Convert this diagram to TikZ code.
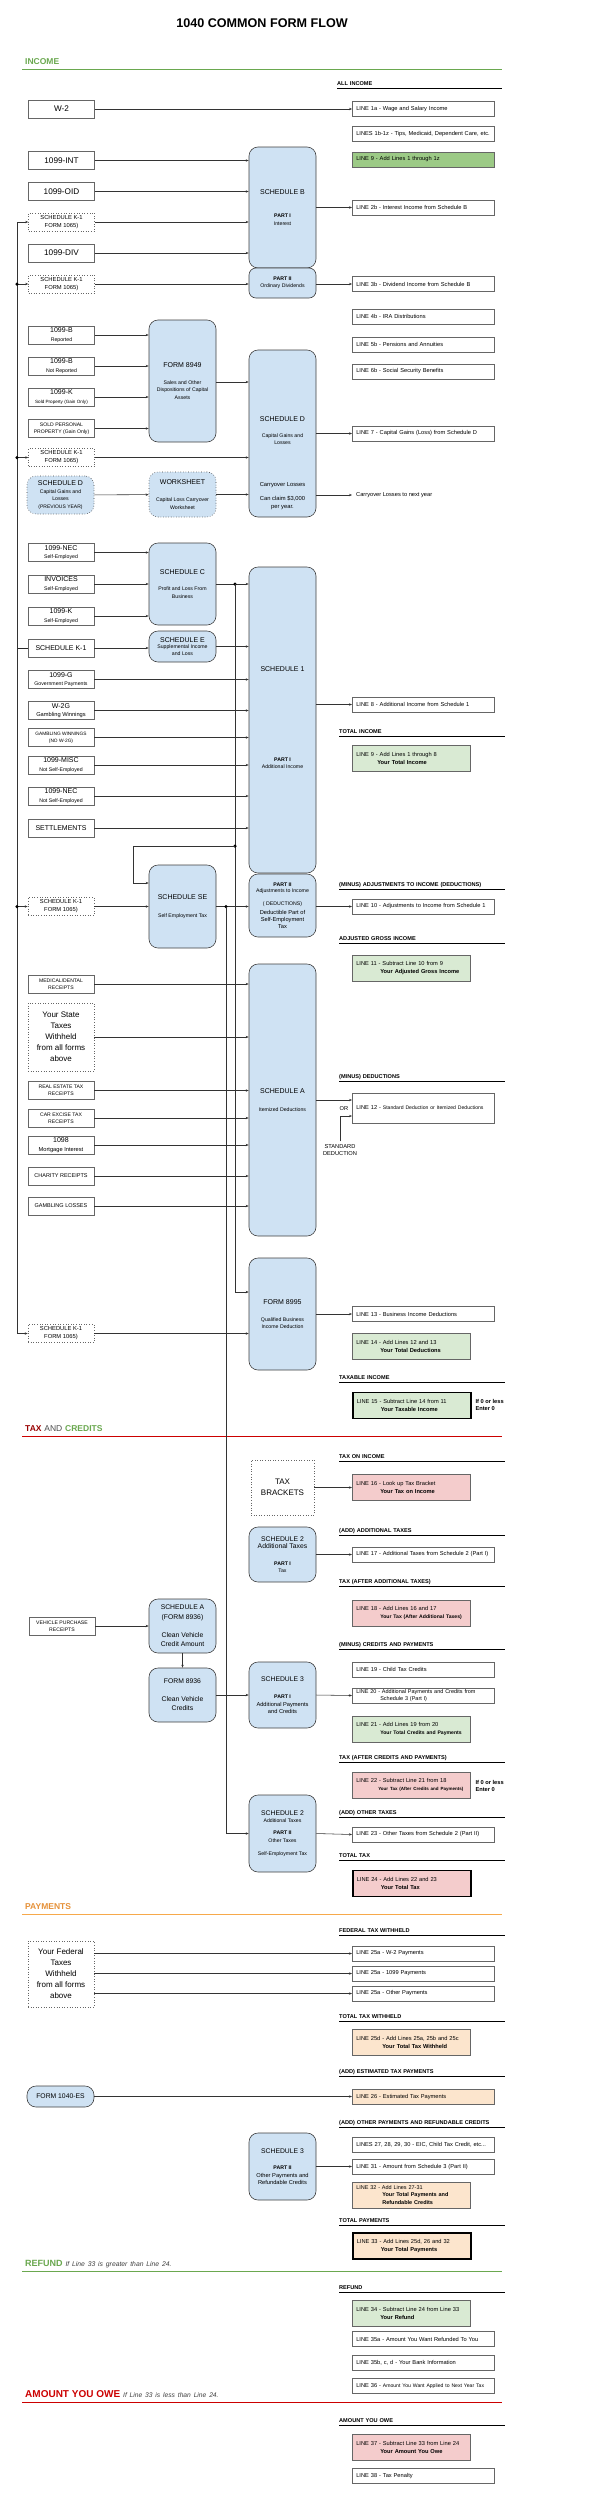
\documentclass[tikz,border=0pt]{standalone}
\usepackage{fontspec}
\setmainfont{Liberation Sans}
\usepackage{xcolor}
\usetikzlibrary{arrows.meta, positioning, calc}

\definecolor{schblue}{HTML}{CFE2F3}
\definecolor{linegreen}{HTML}{D9EAD3}
\definecolor{darkgreen}{HTML}{9CCA86}
\definecolor{linepink}{HTML}{F4CCCC}
\definecolor{lineorange}{HTML}{FCE5CD}
\definecolor{incgreen}{HTML}{6AA84F}
\definecolor{taxred}{HTML}{990000}
\definecolor{owered}{HTML}{CC0000}
\definecolor{payorange}{HTML}{F6A94B}
\definecolor{paytext}{HTML}{E69138}
\definecolor{boxgray}{HTML}{666666}

\newcommand{\fsrc}{\fontsize{8.2}{9}\selectfont}
\newcommand{\fmain}{\fontsize{7}{8.5}\selectfont}
\newcommand{\fmid}{\fontsize{6.8}{9.5}\selectfont}
\newcommand{\fkone}{\fontsize{5.8}{8}\selectfont}
\newcommand{\fsub}{\fontsize{5.2}{7.4}\selectfont}
\newcommand{\fsubb}{\fontsize{5.1}{7}\selectfont}
\newcommand{\fline}{\fontsize{5.7}{7}\selectfont}
\newcommand{\fhead}{\fontsize{5.6}{6.5}\selectfont\bfseries}
\newcommand{\fbig}{\fontsize{8}{11}\selectfont}

\tikzset{
    src/.style={
        draw=boxgray,
        line width=0.6pt,
        minimum width=66pt,
        minimum height=18pt,
        inner sep=1pt,
        align=center,
        font=\fmain,
    },
    srcdot/.style={
        src,
        dotted,
    },
    sched/.style={
        draw=black!75,
        fill=schblue,
        line width=0.6pt,
        rounded corners=9pt,
        minimum width=67pt,
        inner sep=1pt,
        align=center,
        font=\fsub,
    },
    lbox/.style={
        draw=boxgray,
        line width=0.6pt,
        anchor=west,
        minimum width=142pt,
        minimum height=15pt,
        text width=134pt,
        inner xsep=4pt,
        inner ysep=1pt,
        align=left,
        font=\fline,
    },
    tbox/.style={
        lbox,
        minimum width=118pt,
        text width=110pt,
        minimum height=26pt,
        font=\fontsize{5.7}{8}\selectfont,
    },
    strong/.style={
        draw=black,
        line width=1.5pt,
    },
    head/.style={
        anchor=south west,
        inner xsep=0pt,
        inner ysep=2.5pt,
        text width=166pt,
        text depth=0pt,
        font=\fhead,
        append after command={(\tikzlastnode.south west) edge[draw=black, line width=0.8pt] (\tikzlastnode.south east)},
    },
    banner/.style={
        anchor=south west,
        inner xsep=3pt,
        inner ysep=4pt,
        text width=474pt,
        text depth=0pt,
        font=\fontsize{8.5}{10}\selectfont\bfseries,
        append after command={(\tikzlastnode.south west) edge[draw=#1, line width=1pt] (\tikzlastnode.south east)},
    },
    flow/.style={
        -{Stealth[length=3pt, width=2.4pt]},
        draw=black!80,
        line width=0.55pt,
    },
    wire/.style={
        draw=black!85,
        line width=0.7pt,
    },
    junc/.style={
        circle,
        fill=black,
        inner sep=0pt,
        minimum size=3.5pt,
    },
}

\begin{document}
\begin{tikzpicture}[x=1pt, y=-1pt]
    \useasboundingbox (0,0) rectangle (592,2500);
    \fill[white] (0,0) rectangle (592,2500);

    % title and sections
    \node[font=\fontsize{12.6}{15}\selectfont\bfseries] (title) at (262,23) {1040 COMMON FORM FLOW};
    \node[banner=incgreen, text=incgreen] (secInc) at (22,69) {INCOME};
    \node[banner=owered] (secTax) at (22,1436) {\textcolor{taxred}{TAX} \textcolor{black!70}{\mdseries AND} \textcolor{incgreen}{CREDITS}};
    \node[banner=payorange, text=paytext] (secPay) at (22,1914) {PAYMENTS};
    \node[banner=incgreen, text=incgreen] (secRef) at (22,2271) {\fontsize{9}{11}\selectfont REFUND \textcolor{black!75}{\fontsize{6.8}{8}\selectfont\mdseries\itshape If Line 33 is greater than Line 24.}};
    \node[banner=owered, text=owered] (secOwe) at (22,2402) {\fontsize{10}{12}\selectfont AMOUNT YOU OWE \textcolor{black!75}{\fontsize{6.7}{8}\selectfont\mdseries\itshape If Line 33 is less than Line 24.}};

    % headings on the right
    \node[head, text width=165pt] (hAll) at (337,88) {ALL INCOME};
    \node[head] (hTotInc) at (339,736) {TOTAL INCOME};
    \node[head] (hAdj) at (339,889) {(MINUS) ADJUSTMENTS TO INCOME (DEDUCTIONS)};
    \node[head] (hAgi) at (339,943) {ADJUSTED GROSS INCOME};
    \node[head] (hDed) at (339,1081) {(MINUS) DEDUCTIONS};
    \node[head] (hTaxable) at (339,1382) {TAXABLE INCOME};
    \node[head] (hTaxInc) at (339,1461) {TAX ON INCOME};
    \node[head] (hAddTax) at (339,1535) {(ADD) ADDITIONAL TAXES};
    \node[head] (hAfterAdd) at (339,1586) {TAX (AFTER ADDITIONAL TAXES)};
    \node[head] (hCred) at (339,1649) {(MINUS) CREDITS AND PAYMENTS};
    \node[head] (hAfterCred) at (339,1762) {TAX (AFTER CREDITS AND PAYMENTS)};
    \node[head] (hOther) at (339,1817) {(ADD) OTHER TAXES};
    \node[head] (hTotTax) at (339,1860) {TOTAL TAX};
    \node[head] (hFed) at (339,1935) {FEDERAL TAX WITHHELD};
    \node[head] (hTotWith) at (339,2021) {TOTAL TAX WITHHELD};
    \node[head] (hEst) at (339,2076) {(ADD) ESTIMATED TAX PAYMENTS};
    \node[head] (hOtherPay) at (339,2127) {(ADD) OTHER PAYMENTS AND REFUNDABLE CREDITS};
    \node[head] (hTotPay) at (339,2225) {TOTAL PAYMENTS};
    \node[head] (hRefund) at (339,2292) {REFUND};
    \node[head] (hOwe) at (339,2425) {AMOUNT YOU OWE};

    % source documents
    \node[src, font=\fsrc] (wTwo) at (61.5,109) {W-2};
    \node[src, font=\fsrc] (int) at (61.5,160.5) {1099-INT};
    \node[src, font=\fsrc] (oid) at (61.5,191.5) {1099-OID};
    \node[srcdot, font=\fkone] (kOneA) at (61.5,222) {SCHEDULE K-1\\FORM 1065)};
    \node[src, font=\fsrc] (div) at (61.5,253) {1099-DIV};
    \node[srcdot, font=\fkone] (kOneB) at (61.5,284) {SCHEDULE K-1\\FORM 1065)};
    \node[src] (bRep) at (61.5,335) {1099-B\\{\fsub Reported}};
    \node[src] (bNot) at (61.5,366) {1099-B\\{\fsub Not Reported}};
    \node[src] (kSold) at (61.5,397) {1099-K\\{\fontsize{4.6}{6}\selectfont Sold Property (Gain Only)}};
    \node[src, font=\fsubb] (soldProp) at (61.5,428.5) {SOLD PERSONAL\\PROPERTY (Gain Only)};
    \node[srcdot, font=\fkone] (kOneC) at (61.5,457.5) {SCHEDULE K-1\\FORM 1065)};
    \node[sched, dotted, minimum height=38pt] (prevD) at (60.5,495) {{\fmain SCHEDULE D}\\Capital Gains and\\Losses\\{\fontsize{5}{6}\selectfont (PREVIOUS YEAR)}};
    \node[src] (necSE) at (61,552.5) {1099-NEC\\{\fsub Self-Employed}};
    \node[src] (inv) at (61,584) {INVOICES\\{\fsub Self-Employed}};
    \node[src] (kSE) at (61,616) {1099-K\\{\fsub Self-Employed}};
    \node[src] (kOne) at (61,648) {SCHEDULE K-1};
    \node[src] (govt) at (61,679.5) {1099-G\\{\fsub Government Payments}};
    \node[src] (wTwoG) at (61,710.5) {W-2G\\{\fline Gambling Winnings}};
    \node[src, font=\fontsize{4.8}{7}\selectfont] (gamb) at (61,737.5) {GAMBLING WINNINGS\\(NO W-2G)};
    \node[src] (misc) at (61,765) {1099-MISC\\{\fsub Not Self-Employed}};
    \node[src] (necN) at (61,796) {1099-NEC\\{\fsub Not Self-Employed}};
    \node[src] (settle) at (61,828) {SETTLEMENTS};
    \node[srcdot, font=\fkone] (kOneD) at (61,906.5) {SCHEDULE K-1\\FORM 1065)};
    \node[src, font=\fsubb] (med) at (61,984) {MEDICAL/DENTAL\\RECEIPTS};
    \node[srcdot, font=\fbig, minimum height=68pt] (stateTax) at (61,1037) {Your State\\Taxes\\Withheld\\from all forms\\above};
    \node[src, font=\fsubb] (realEst) at (61,1090.5) {REAL ESTATE TAX\\RECEIPTS};
    \node[src, font=\fsubb] (carEx) at (61,1118) {CAR EXCISE TAX\\RECEIPTS};
    \node[src] (mort) at (61,1145) {1098\\{\fline Mortgage Interest}};
    \node[src, font=\fontsize{5.5}{7}\selectfont] (charity) at (61,1176) {CHARITY RECEIPTS};
    \node[src, font=\fontsize{5.5}{7}\selectfont] (gambLoss) at (61,1206) {GAMBLING LOSSES};
    \node[srcdot, font=\fkone] (kOneE) at (61,1333.5) {SCHEDULE K-1\\FORM 1065)};
    \node[src, font=\fsubb] (vehicle) at (62,1626) {VEHICLE PURCHASE\\RECEIPTS};
    \node[srcdot, font=\fbig, minimum height=66pt] (fedTax) at (61,1974) {Your Federal\\Taxes\\Withheld\\from all forms\\above};
    \node[sched, minimum height=21pt, font=\fmid] (esForm) at (60.5,2096.5) {FORM 1040-ES};

    % schedules and forms
    \node[sched, minimum height=121pt] (schB) at (282.5,207.5) {{\fmain SCHEDULE B}\\[16pt]\textbf{PART I}\\Interest};
    \node[sched, minimum height=30pt, rounded corners=7pt] (schBii) at (282.5,283) {\textbf{PART II}\\Ordinary Dividends};
    \node[sched, minimum height=122pt] (fEightNine) at (182.5,381) {{\fmain FORM 8949}\\[9pt]Sales and Other\\Dispositions of Capital\\Assets};
    \node[sched, minimum height=167pt] (schD) at (282.5,433.5) {};
    \node[font=\fsub, align=center] (schDtop) at (282.5,430.5) {{\fmain SCHEDULE D}\\[9pt]Capital Gains and\\Losses};
    \node[font=\fontsize{5.8}{8}\selectfont, align=center] (schDlow) at (282.5,496) {Carryover Losses\\[6pt]Can claim \$3,000\\per year.};
    \node[sched, dotted, minimum height=45pt] (wks) at (182.5,494.5) {{\fmain WORKSHEET}\\[10pt]Capital Loss Carryover\\Worksheet};
    \node[sched, minimum height=82pt] (schC) at (182.5,584) {{\fmain SCHEDULE C}\\[9pt]Profit and Loss From\\Business};
    \node[sched, minimum height=31pt] (schE) at (182.5,646.5) {{\fmain SCHEDULE E}\\[-1pt]Supplemental Income\\[-1pt]and Loss};
    \node[sched, minimum height=306pt] (schOne) at (282.5,720) {};
    \node[font=\fmain] (schOneTop) at (282.5,669) {SCHEDULE 1};
    \node[font=\fsub, align=center] (schOneLow) at (282.5,763) {\textbf{PART I}\\Additional Income};
    \node[sched, minimum height=63pt] (schOneii) at (282.5,905.5) {\textbf{PART II}\\[-1.5pt]Adjustments to Income\\[6pt]( DEDUCTIONS)\\[1.5pt]{\fline Deductible Part of}\\{\fline Self-Employment}\\[-1pt]{\fline Tax}};
    \node[sched, minimum height=83pt] (schSE) at (182.5,906.5) {{\fmain SCHEDULE SE}\\[10pt]Self Employment Tax};
    \node[sched, minimum height=272pt] (schA) at (282.5,1100) {{\fmain SCHEDULE A}\\[10pt]Itemized Deductions};
    \node[sched, minimum height=112pt] (fEightNineFive) at (282.5,1314) {{\fmain FORM 8995}\\[10pt]Qualified Business\\Income Deduction};
    \node[srcdot, font=\fbig, minimum width=63pt, minimum height=55pt] (brackets) at (282.5,1487.5) {TAX\\BRACKETS};
    \node[sched, minimum height=55pt] (schTwo) at (282.5,1554.5) {{\fmid SCHEDULE 2}\\[0pt]{\fmid Additional Taxes}\\[9pt]\textbf{PART I}\\Tax};
    \node[sched, minimum height=54pt, font=\fmid] (schAcar) at (182.5,1626) {SCHEDULE A\\[0.5pt](FORM 8936)\\[8pt]Clean Vehicle\\Credit Amount};
    \node[sched, minimum height=54pt, font=\fmid] (fCar) at (182.5,1695) {FORM 8936\\[8pt]Clean Vehicle\\Credits};
    \node[sched, minimum height=66pt] (schThree) at (282.5,1695) {{\fmid SCHEDULE 3}\\[10pt]\textbf{PART I}\\{\fline Additional Payments}\\{\fline and Credits}};
    \node[sched, minimum height=77pt] (schTwoii) at (282.5,1833.5) {{\fmid SCHEDULE 2}\\Additional Taxes\\[5pt]\textbf{PART II}\\Other Taxes\\[6pt]Self-Employment Tax};
    \node[sched, minimum height=67pt] (schThreeii) at (282.5,2166.5) {{\fmid SCHEDULE 3}\\[9pt]\textbf{PART II}\\{\fline Other Payments and}\\{\fline Refundable Credits}};

    % form 1040 lines
    \node[lbox] (lOneA) at (352,109) {LINE 1a - Wage and Salary Income};
    \node[lbox] (lOneB) at (352,134) {LINES 1b-1z - Tips, Medicaid, Dependent Care, etc.};
    \node[lbox, fill=darkgreen] (lOneZ) at (352,159.5) {LINE 9 - Add Lines 1 through 1z};
    \node[lbox] (lTwoB) at (352,207.5) {LINE 2b -  Interest Income from Schedule B};
    \node[lbox] (lThreeB) at (352,284) {LINE 3b - Dividend Income from Schedule B};
    \node[lbox] (lFourB) at (352,316.5) {LINE 4b - IRA Distributions};
    \node[lbox] (lFiveB) at (352,344.5) {LINE 5b - Pensions and Annuities};
    \node[lbox] (lSixB) at (352,371.5) {LINE 6b - Social Security Benefits};
    \node[lbox] (lSeven) at (352,433.5) {LINE 7 - Capital Gains (Loss) from Schedule D};
    \node[font=\fline, anchor=west, inner sep=4pt] (carry) at (352,495) {Carryover Losses to next year};
    \node[lbox] (lEight) at (352,704.5) {LINE 8 - Additional Income from Schedule 1};
    \node[tbox, fill=linegreen] (lNine) at (352,758.5) {LINE 9 - Add Lines 1 through 8\\\hspace*{21pt}\textbf{Your Total Income}};
    \node[lbox] (lTen) at (352,906.5) {LINE 10 - Adjustments to Income from Schedule 1};
    \node[tbox, fill=linegreen] (lEleven) at (352,968.5) {LINE 11 - Subtract Line 10 from 9\\\hspace*{24pt}\textbf{Your Adjusted Gross Income}};
    \node[lbox, minimum height=30pt] (lTwelve) at (352,1108) {LINE 12 - {\fontsize{5.1}{6}\selectfont Standard Deduction or Itemized Deductions}};
    \node[font=\fline] (orText) at (344,1109) {OR};
    \node[font=\fline, align=center, inner ysep=3pt] (stdDed) at (340,1150) {STANDARD\\DEDUCTION};
    \node[lbox] (lThirteen) at (352,1314) {LINE 13 - Business Income Deductions};
    \node[tbox, fill=linegreen] (lFourteen) at (352,1346) {LINE 14 - Add Lines 12 and 13\\\hspace*{24pt}\textbf{Your Total Deductions}};
    \node[tbox, fill=linegreen, strong] (lFifteen) at (352,1405.5) {LINE 15 - Subtract Line 14 from 11\\\hspace*{24pt}\textbf{Your Taxable Income}};
    \node[font=\fontsize{5.7}{7}\selectfont\bfseries, align=left, anchor=west] (zeroA) at (472,1405) {If 0 or less\\Enter 0};
    \node[tbox, fill=linepink] (lSixteen) at (352,1487.5) {LINE 16 - Look up Tax Bracket\\\hspace*{24pt}\textbf{Your Tax on Income}};
    \node[lbox] (lSeventeen) at (352,1554.5) {LINE 17 - Additional Taxes from Schedule 2 (Part I)};
    \node[tbox, fill=linepink] (lEighteen) at (352,1613) {LINE 18 - Add Lines 16 and 17\\\hspace*{24pt}{\fontsize{5.1}{6}\selectfont\bfseries Your Tax (After Additional Taxes)}};
    \node[lbox] (lNineteen) at (352,1669.5) {LINE 19 - Child Tax Credits};
    \node[lbox, inner ysep=0.5pt, font=\fontsize{5.5}{6.2}\selectfont] (lTwenty) at (352,1695.5) {LINE 20 - Additional Payments and Credits from\\\hspace*{24pt}Schedule 3 (Part I)};
    \node[tbox, fill=linegreen] (lTwentyOne) at (352,1729) {LINE 21 - Add Lines 19 from 20\\\hspace*{24pt}{\fontsize{5.1}{6}\selectfont\bfseries Your Total Credits and Payments}};
    \node[tbox, fill=linepink] (lTwentyTwo) at (352,1785) {LINE 22 - Subtract Line 21 from 18\\\hspace*{22pt}{\fontsize{4.5}{6}\selectfont\bfseries Your Tax (After Credits and Payments)}};
    \node[font=\fontsize{5.7}{7}\selectfont\bfseries, align=left, anchor=west] (zeroB) at (472,1786) {If 0 or less\\Enter 0};
    \node[lbox] (lTwentyThree) at (352,1834.5) {LINE 23 - Other Taxes from Schedule 2 (Part II)};
    \node[tbox, fill=linepink, strong] (lTwentyFour) at (352,1883.5) {LINE 24 - Add Lines 22 and 23\\\hspace*{24pt}\textbf{Your Total Tax}};
    \node[lbox] (lWtwo) at (352,1953.5) {LINE 25a - W-2 Payments};
    \node[lbox] (lTenNine) at (352,1973.5) {LINE 25a - 1099 Payments};
    \node[lbox] (lOtherPay) at (352,1993.5) {LINE 25a - Other Payments};
    \node[tbox, fill=lineorange] (lTwentyFiveD) at (352,2042.5) {LINE 25d - Add Lines 25a, 25b and 25c\\\hspace*{26pt}\textbf{Your Total Tax Withheld}};
    \node[lbox, fill=lineorange] (lTwentySix) at (352,2096.5) {LINE 26 - Estimated Tax Payments};
    \node[lbox] (lTwentySeven) at (352,2145) {LINES 27, 28, 29, 30 - EIC, Child Tax Credit, etc...};
    \node[lbox] (lThirtyOne) at (352,2166.5) {LINE 31 - Amount from Schedule 3 (Part II)};
    \node[tbox, fill=lineorange, font=\fontsize{5.5}{7.3}\selectfont] (lThirtyTwo) at (352,2195) {LINE 32 - Add Lines 27-31\\\hspace*{26pt}\textbf{Your Total Payments and}\\\hspace*{26pt}\textbf{Refundable Credits}};
    \node[tbox, fill=lineorange, strong] (lThirtyThree) at (352,2246) {LINE 33 - Add Lines 25d, 26 and 32\\\hspace*{24pt}\textbf{Your Total Payments}};
    \node[tbox, fill=linegreen] (lThirtyFour) at (352,2313) {LINE 34 - Subtract Line 24 from Line 33\\\hspace*{24pt}\textbf{Your Refund}};
    \node[lbox] (lThirtyFiveA) at (352,2339) {LINE 35a - Amount You Want Refunded To You};
    \node[lbox] (lThirtyFiveB) at (352,2363) {LINE 35b, c, d - Your Bank Information};
    \node[lbox] (lThirtySix) at (352,2386) {LINE 36 - {\fontsize{5.1}{6}\selectfont Amount You Want Applied to Next Year Tax}};
    \node[tbox, fill=linepink] (lThirtySeven) at (352,2447) {LINE 37 - Subtract Line 33 from Line 24\\\hspace*{24pt}\textbf{Your Amount You Owe}};
    \node[lbox] (lThirtyEight) at (352,2476) {LINE 38 - Tax Penalty};

    % schedule K-1 bus
    \coordinate (busK) at (17,648);
    \draw[wire] (kOne.west) -- (busK);
    \draw[flow] (busK) |- (kOneA.west);
    \draw[flow] (busK) |- (kOneE.west);
    \foreach \n in {kOneB, kOneC, kOneD} {
        \draw[flow] (busK |- \n.west) -- (\n.west);
        \node[junc] (j\n) at (busK |- \n.west) {};
    }

    % income arrows
    \draw[flow] (wTwo) -- (lOneA);
    \foreach \n in {int, oid, kOneA, div} {
        \draw[flow] (\n) -- (\n -| schB.west);
    }
    \draw[flow] (schB.east) -- (lTwoB.west);
    \draw[flow] (kOneB) -- (kOneB -| schBii.west);
    \draw[flow] (schBii.east |- lThreeB) -- (lThreeB.west);
    \foreach \n in {bRep, bNot, kSold, soldProp} {
        \draw[flow] (\n) -- (\n -| fEightNine.west);
    }
    \draw[flow] (fEightNine.east |- 0,382) -- (schD.west |- 0,382);
    \draw[flow] (schD.east) -- (lSeven.west);
    \draw[flow] (kOneC) -- (kOneC -| schD.west);
    \draw[flow] (prevD) -- (wks);
    \draw[flow] (wks) -- (wks -| schD.west);
    \draw[flow] (schD.east |- carry) -- (carry.west);
    \foreach \n in {necSE, inv, kSE} {
        \draw[flow] (\n) -- (\n -| schC.west);
    }
    \draw[flow] (schC.east) -- (schC.east -| schOne.west);
    \draw[flow] (kOne) -- (kOne -| schE.west);
    \draw[flow] (schE.east) -- (schE.east -| schOne.west);
    \foreach \n in {govt, wTwoG, gamb, misc, necN, settle} {
        \draw[flow] (\n) -- (\n -| schOne.west);
    }
    \draw[flow] (schOne.east |- lEight) -- (lEight.west);

    % self-employment and business income bus
    \coordinate (busC) at (235,584);
    \node[junc] (jC) at (busC) {};
    \draw[flow] (busC) |- (fEightNineFive.west |- 0,1292);
    \node[junc] (jSE) at (235,846) {};
    \draw[flow] (jSE.center) -| (133,883) -- (schSE.west |- 0,883);
    \draw[flow] (kOneD) -- (schSE);
    \draw[flow] (schSE) -- (schSE -| schOneii.west);
    \coordinate (busSE) at (226,906.5);
    \node[junc] (jTax) at (busSE) {};
    \draw[flow] (busSE) |- (schTwoii.west);
    \draw[flow] (schOneii.east |- lTen) -- (lTen.west);

    % deductions
    \foreach \n in {med, stateTax, realEst, carEx, mort, charity, gambLoss} {
        \draw[flow] (\n) -- (\n -| schA.west);
    }
    \draw[flow] (schA.east |- 0,1100) -- (lTwelve.west |- 0,1100);
    \draw[flow] (stdDed.north) |- (lTwelve.west |- 0,1116);
    \draw[flow] (fEightNineFive.east) -- (lThirteen.west);
    \draw[flow] (kOneE) -- (kOneE -| fEightNineFive.west);

    % tax and credits
    \draw[flow] (brackets) -- (lSixteen);
    \draw[flow] (schTwo.east) -- (lSeventeen.west);
    \draw[flow] (vehicle) -- (schAcar);
    \draw[flow] (schAcar) -- (fCar);
    \draw[flow] (fCar) -- (schThree);
    \draw[flow] (schThree.east) -- (lTwenty.west);
    \draw[flow] (schTwoii.east) -- (lTwentyThree.west);

    % payments
    \foreach \n in {lWtwo, lTenNine, lOtherPay} {
        \draw[flow] (fedTax.east |- \n) -- (\n.west);
    }
    \draw[flow] (esForm) -- (lTwentySix);
    \draw[flow] (schThreeii.east) -- (lThirtyOne.west);
\end{tikzpicture}
\end{document}
